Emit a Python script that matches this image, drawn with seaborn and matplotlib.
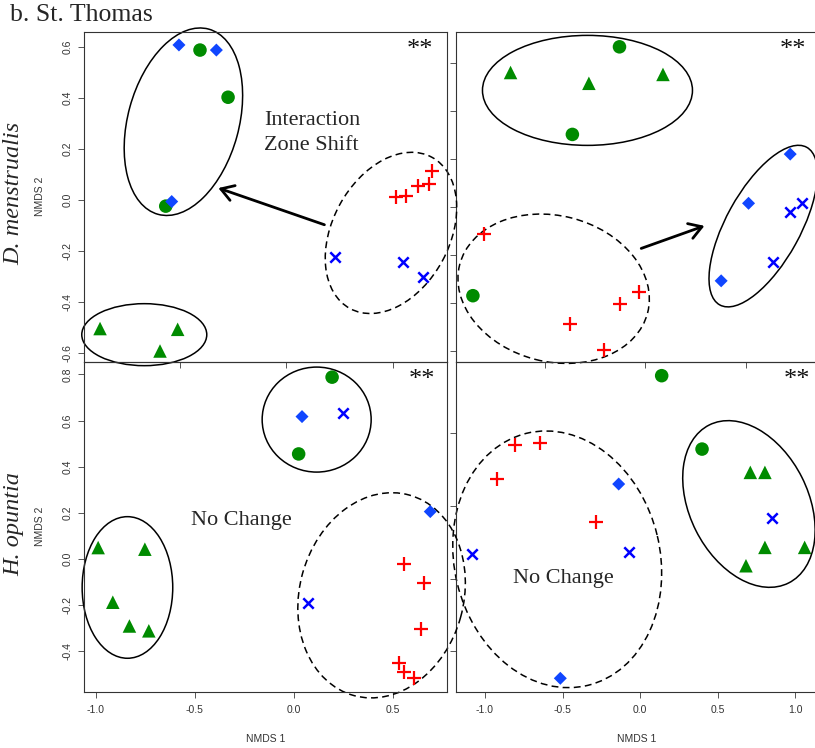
import numpy as np
import pandas as pd
import matplotlib
matplotlib.use("Agg")
import matplotlib.pyplot as plt
import matplotlib.transforms as mtrans
from matplotlib.patches import Ellipse
import seaborn as sns

sns.set_style("ticks")
plt.rcParams["font.family"] = ["Liberation Sans", "DejaVu Sans"]
plt.rcParams["axes.unicode_minus"] = False

# ---------------- data (NMDS scores) ----------------
# top-left: D. menstrualis, Interaction Zone Shift
tl_x = [-0.406, -0.274, -0.567, -0.505, -0.329, -0.539, -0.876, -0.511, -0.594,
        0.516, 0.563, 0.618, 0.671, 0.685, 0.229, 0.550, 0.642]
tl_y = [0.587, 0.402, -0.025, 0.607, 0.587, -0.007, -0.505, -0.508, -0.593,
        0.011, 0.013, 0.055, 0.063, 0.111, -0.225, -0.246, -0.303]
tl_grp = ["circle"] * 3 + ["diamond"] * 3 + ["triangle"] * 3 + ["plus"] * 5 + ["cross"] * 3

# top-right
tr_x = [-0.128, -0.362, -0.856, -0.669, -0.280, 0.088, -0.799, -0.033, -0.123,
        -0.372, -0.204, 0.720, 0.513, 0.377, 0.781, 0.720, 0.634]
tr_y = [0.669, 0.304, -0.368, 0.562, 0.517, 0.554, -0.113, -0.354, -0.403,
        -0.486, -0.595, 0.222, 0.017, -0.306, 0.017, -0.020, -0.227]
tr_grp = ["circle"] * 3 + ["triangle"] * 3 + ["plus"] * 5 + ["diamond"] * 3 + ["cross"] * 3

# bottom-left: H. opuntia, No Change
bl_x = [0.194, 0.025, 0.042, 0.690, 0.247, 0.071, -0.988, -0.752, -0.914, -0.830,
        -0.732, 0.559, 0.657, 0.643, 0.534, 0.559, 0.609]
bl_y = [0.788, 0.455, 0.617, 0.205, 0.634, -0.192, 0.049, 0.042, -0.188, -0.291,
        -0.312, -0.023, -0.103, -0.305, -0.452, -0.491, -0.515]
bl_grp = ["circle"] * 2 + ["diamond"] * 2 + ["cross"] * 2 + ["triangle"] * 5 + ["plus"] * 6

# bottom-right
br_x = [0.138, 0.398, 0.709, 0.803, 0.803, 1.059, 0.681, 0.849, -1.084, -0.071,
        -0.139, -0.515, -0.809, -0.648, -0.923, -0.283]
br_y = [0.893, 0.389, 0.229, 0.229, -0.286, -0.286, -0.412, -0.087, -0.334, -0.316,
        0.149, -1.185, 0.417, 0.433, 0.181, -0.114]
br_grp = ["circle"] * 2 + ["triangle"] * 5 + ["cross"] * 3 + ["diamond"] * 2 + ["plus"] * 4

# group ellipses: centre (data units), semi-axes (px), angle (deg), dashed?
tl_ell_cx = [-0.484, -0.668, 0.492]
tl_ell_cy = [0.306, -0.529, -0.130]
tl_ell_a = [96, 62.5, 86]
tl_ell_b = [55.5, 31, 58.5]
tl_ell_ang = [74.7, 0, 61.6]
tl_ell_dash = [False, False, True]

tr_ell_cx = [-0.287, -0.455, 0.586]
tr_ell_cy = [0.4875, -0.339, -0.078]
tr_ell_a = [105, 97, 90]
tr_ell_b = [55, 73, 37]
tr_ell_ang = [0, -14.3, 61.1]
tr_ell_dash = [False, True, False]

bl_ell_cx = [0.116, -0.840, 0.444]
bl_ell_cy = [0.604, -0.124, -0.158]
bl_ell_a = [54.5, 70.8, 104]
bl_ell_b = [52.5, 45.3, 82]
bl_ell_ang = [0, 90, 74.5]
bl_ell_dash = [False, False, True]

br_ell_cx = [-0.535, 0.700]
br_ell_cy = [-0.368, 0.012]
br_ell_a = [129.7, 88.4]
br_ell_b = [102.8, 59.3]
br_ell_ang = [103.7, 116.7]
br_ell_dash = [True, False]

# ---------------- styling ----------------
GREEN = "#008B00"
BLUE_D = "#1046FF"
BLUE_X = "#0000FF"
RED = "#FF0000"
MARKERS = {
    "circle": dict(marker="o", color=GREEN, s=95, filled=True),
    "triangle": dict(marker="^", color=GREEN, s=95, filled=True),
    "diamond": dict(marker="D", color=BLUE_D, s=44, filled=True),
    "plus": dict(marker="+", color=RED, s=100, filled=False, lw=1.6),
    "cross": dict(marker="x", color=BLUE_X, s=56, filled=False, lw=1.8),
}

W, H, DPI = 815, 748, 100
fig = plt.figure(figsize=(W / DPI, H / DPI), dpi=DPI)
fig.patch.set_facecolor("white")


def rect(l, t, r, b):
    return [l / W, 1 - b / H, (r - l) / W, (b - t) / H]


SERIF = ["Liberation Serif", "DejaVu Serif"]
panels = [
    dict(name="TL", x=tl_x, y=tl_y, g=tl_grp, rect=rect(84.3, 31.7, 446.7, 361.7),
         xlim=(-0.95, 0.754), ylim=(-0.635, 0.659),
         xt=[-0.5, 0, 0.5], yt=[-0.6, -0.4, -0.2, 0, 0.2, 0.4, 0.6],
         lb=False, ll=True,
         ell=(tl_ell_cx, tl_ell_cy, tl_ell_a, tl_ell_b, tl_ell_ang, tl_ell_dash),
         stars=(0.926, 0.925)),
    dict(name="TR", x=tr_x, y=tr_y, g=tr_grp, rect=rect(456, 31.7, 818, 361.7),
         xlim=(-0.94, 0.858), ylim=(-0.643, 0.732),
         xt=[-0.5, 0, 0.5], yt=[-0.6, -0.4, -0.2, 0, 0.2, 0.4, 0.6],
         lb=False, ll=False,
         ell=(tr_ell_cx, tr_ell_cy, tr_ell_a, tr_ell_b, tr_ell_ang, tr_ell_dash),
         stars=(0.930, 0.927)),
    dict(name="BL", x=bl_x, y=bl_y, g=bl_grp, rect=rect(84.3, 361.7, 446.7, 691.7),
         xlim=(-1.058, 0.773), ylim=(-0.576, 0.855),
         xt=[-1.0, -0.5, 0, 0.5], yt=[-0.4, -0.2, 0, 0.2, 0.4, 0.6, 0.8],
         lb=True, ll=True,
         ell=(bl_ell_cx, bl_ell_cy, bl_ell_a, bl_ell_b, bl_ell_ang, bl_ell_dash),
         stars=(0.931, 0.925)),
    dict(name="BR", x=br_x, y=br_y, g=br_grp, rect=rect(456, 361.7, 818, 691.7),
         xlim=(-1.187, 1.145), ylim=(-1.277, 0.989),
         xt=[-1.0, -0.5, 0, 0.5, 1.0], yt=[-1.0, -0.5, 0, 0.5],
         lb=True, ll=False,
         ell=(br_ell_cx, br_ell_cy, br_ell_a, br_ell_b, br_ell_ang, br_ell_dash),
         stars=(0.943, 0.927)),
]

axes = {}
for p in panels:
    ax = fig.add_axes(p["rect"])
    ax.patch.set_alpha(0)
    axes[p["name"]] = ax
    df = pd.DataFrame({"x": p["x"], "y": p["y"], "grp": p["g"]})
    for gname, st in MARKERS.items():
        sub = df[df["grp"] == gname]
        if sub.empty:
            continue
        if st["filled"]:
            sns.scatterplot(data=sub, x="x", y="y", marker=st["marker"], color=st["color"],
                            s=st["s"], edgecolor="none", linewidth=0, ax=ax,
                            legend=False, zorder=3, clip_on=False)
        else:
            sns.scatterplot(data=sub, x="x", y="y", marker=st["marker"], color=st["color"],
                            s=st["s"], linewidth=st["lw"], ax=ax, legend=False,
                            zorder=3, clip_on=False)

    cx, cy, ea, eb, eang, edash = p["ell"]
    for i in range(len(cx)):
        tr = mtrans.Affine2D() + mtrans.ScaledTranslation(cx[i], cy[i], ax.transData)
        e = Ellipse((0, 0), 2 * ea[i], 2 * eb[i], angle=eang[i], transform=tr,
                    fill=False, edgecolor="black", linewidth=1.1,
                    linestyle=(0, (4.5, 2.8)) if edash[i] else "-",
                    clip_on=False, zorder=2)
        ax.add_artist(e)

    ax.set_xlim(*p["xlim"])
    ax.set_ylim(*p["ylim"])
    ax.set_xticks(p["xt"])
    ax.set_yticks(p["yt"])
    ax.set_xticklabels([f"{v:.1f}" for v in p["xt"]])
    ax.set_yticklabels([f"{v:.1f}" for v in p["yt"]])
    ax.tick_params(direction="out", length=4.3, width=0.7, color="#555555",
                   labelsize=7.5, labelcolor="#333333")
    ax.tick_params(axis="x", labelbottom=p["lb"], pad=5.5)
    ax.tick_params(axis="y", labelleft=p["ll"], labelrotation=90, pad=4.0)
    for lab in ax.get_yticklabels():
        lab.set_va("center")
    for sp in ax.spines.values():
        sp.set_visible(True)
        sp.set_color("#333333")
        sp.set_linewidth(0.8)
    ax.set_xlabel("")
    ax.set_ylabel("")
    if p["lb"]:
        ax.set_xlabel("NMDS 1", fontsize=7.5, color="#333333")
        ax.xaxis.set_label_coords(0.5, -(739 - 691.7) / 330)
        ax.xaxis.label.set_va("center")
    if p["ll"]:
        ax.set_ylabel("NMDS 2", fontsize=7.5, color="#333333")
        ax.yaxis.set_label_coords((40 - 84.3) / 362.4, 0.5)
        ax.yaxis.label.set_va("center")
    sx, sy = p["stars"]
    ax.text(sx, sy, "**", transform=ax.transAxes, ha="center", va="baseline",
            fontsize=19, family=SERIF, color="#111111")

# z-order so tick marks and ellipses spilling over neighbours stay visible
axes["BR"].set_zorder(1)
axes["BL"].set_zorder(2)
axes["TR"].set_zorder(3)
axes["TL"].set_zorder(4)

# annotations
ax = axes["TL"]
ax.text(0.122, 0.262, "Interaction\nZone Shift", ha="center", va="center",
        fontsize=16, family=SERIF, linespacing=1.38, multialignment="left")
ax.annotate("", xy=(-0.320, 0.046), xytext=(0.179, -0.098),
            arrowprops=dict(arrowstyle="->,head_length=0.45,head_width=0.28",
                            lw=2.0, color="black", mutation_scale=20,
                            shrinkA=0, shrinkB=0))
ax = axes["TR"]
ax.annotate("", xy=(0.294, -0.077), xytext=(-0.020, -0.171),
            arrowprops=dict(arrowstyle="->,head_length=0.45,head_width=0.28",
                            lw=2.0, color="black", mutation_scale=20,
                            shrinkA=0, shrinkB=0))
axes["BL"].text(-0.266, 0.166, "No Change", ha="center", va="center",
                fontsize=16, family=SERIF)
axes["BR"].text(-0.496, -0.503, "No Change", ha="center", va="center",
                fontsize=16, family=SERIF)

# species / title labels
fig.text(10 / W, 1 - 21 / H, "b. St. Thomas", ha="left", va="baseline",
         fontsize=18.5, family=SERIF)
fig.text(14 / W, 1 - 193 / H, "D. menstrualis", rotation=90, ha="center",
         va="center", fontsize=17.5, family=SERIF, style="italic")
fig.text(14 / W, 1 - 524 / H, "H. opuntia", rotation=90, ha="center",
         va="center", fontsize=17.5, family=SERIF, style="italic")

fig.savefig("out.png", dpi=DPI, facecolor="white")
